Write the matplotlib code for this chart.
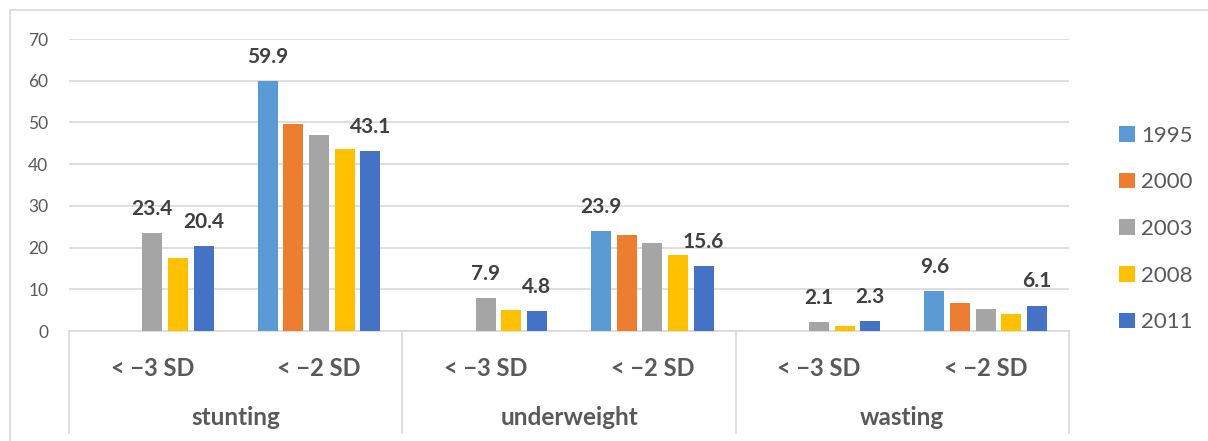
import numpy as np
import matplotlib.pyplot as plt
from matplotlib.patches import Patch, Rectangle
import matplotlib.transforms as mtransforms

plt.rcParams['font.family'] = ['Lato', 'DejaVu Sans']

groups = ['stunting', 'underweight', 'wasting']
cutoffs = ['< \u22123 SD', '< \u22122 SD']
years = ['1995', '2000', '2003', '2008', '2011']
colors = ['#5B9BD5', '#ED7D31', '#A5A5A5', '#FFC000', '#4472C4']

# one list per survey year, in category order:
# stunting <-3, stunting <-2, underweight <-3, underweight <-2, wasting <-3, wasting <-2
y1995 = [np.nan, 59.9, np.nan, 23.9, np.nan, 9.6]
y2000 = [np.nan, 49.6, np.nan, 22.9, np.nan, 6.7]
y2003 = [23.4, 46.9, 7.9, 21.0, 2.1, 5.3]
y2008 = [17.6, 43.6, 5.0, 18.2, 1.2, 4.1]
y2011 = [20.4, 43.1, 4.8, 15.6, 2.3, 6.1]
series = [y1995, y2000, y2003, y2008, y2011]

# which years get a value label in each category
labelled = [[2, 4], [0, 4], [2, 4], [0, 4], [2, 4], [0, 4]]

W, H = 1208, 441
fig = plt.figure(figsize=(W / 100, H / 100), dpi=100)
ax = fig.add_axes([69 / W, (H - 331) / H, 1000 / W, 292 / H])

# light frame around the whole chart
fig.patches.append(Rectangle((10 / W, -0.05), 1.1, (H - 10) / H + 0.05,
                             transform=fig.transFigure, fill=False,
                             edgecolor='#D9D9D9', linewidth=1.2))

x = np.arange(len(groups) * len(cutoffs))
pitch, width = 0.154, 0.12
for i, (vals, c) in enumerate(zip(series, colors)):
    ax.bar(x + (i - 2) * pitch, vals, width=width, color=c, zorder=3)

for j, idx in enumerate(labelled):
    for i in idx:
        v = series[i][j]
        ax.annotate(f'{v:.1f}', (x[j] + (i - 2) * pitch, v),
                    xytext=(0, 13), textcoords='offset points',
                    ha='center', va='baseline', fontsize=15,
                    fontweight='bold', color='#404040')

ax.set_xlim(-0.5, len(x) - 0.5)
ax.set_ylim(0, 70)
ax.set_yticks(range(0, 71, 10))
ax.yaxis.grid(True, color='#D9D9D9', linewidth=1.2, zorder=0)
ax.tick_params(axis='y', length=0, pad=15, labelsize=12.5, labelcolor='#595959')
ax.set_xticks([])
for side in ['left', 'right', 'top']:
    ax.spines[side].set_visible(False)
ax.spines['bottom'].set_color('#D9D9D9')
ax.spines['bottom'].set_linewidth(1.2)

# two-level category axis below the plot
trans = mtransforms.blended_transform_factory(ax.transData, ax.transAxes)
for sep in np.arange(-0.5, len(x), 2):
    ax.plot([sep, sep], [0, -0.35], transform=trans, color='#D9D9D9',
            linewidth=1.2, clip_on=False)
for j in x:
    ax.text(j, -0.13, cutoffs[j % 2], transform=trans, ha='center',
            va='center', fontsize=17, fontweight='bold', color='#595959')
for g, name in enumerate(groups):
    ax.text(2 * g + 0.5, -0.295, name, transform=trans, ha='center',
            va='center', fontsize=17.5, fontweight='bold', color='#595959')

handles = [Patch(facecolor=c, edgecolor='none') for c in colors]
fig.legend(handles, years, loc='center left',
           bbox_to_anchor=(1099 / W, (H - 229) / H), frameon=False,
           fontsize=16, labelcolor='#595959', handlelength=0.7,
           handleheight=0.7, handletextpad=0.3, labelspacing=1.2)

fig.savefig('out.png', dpi=100)
